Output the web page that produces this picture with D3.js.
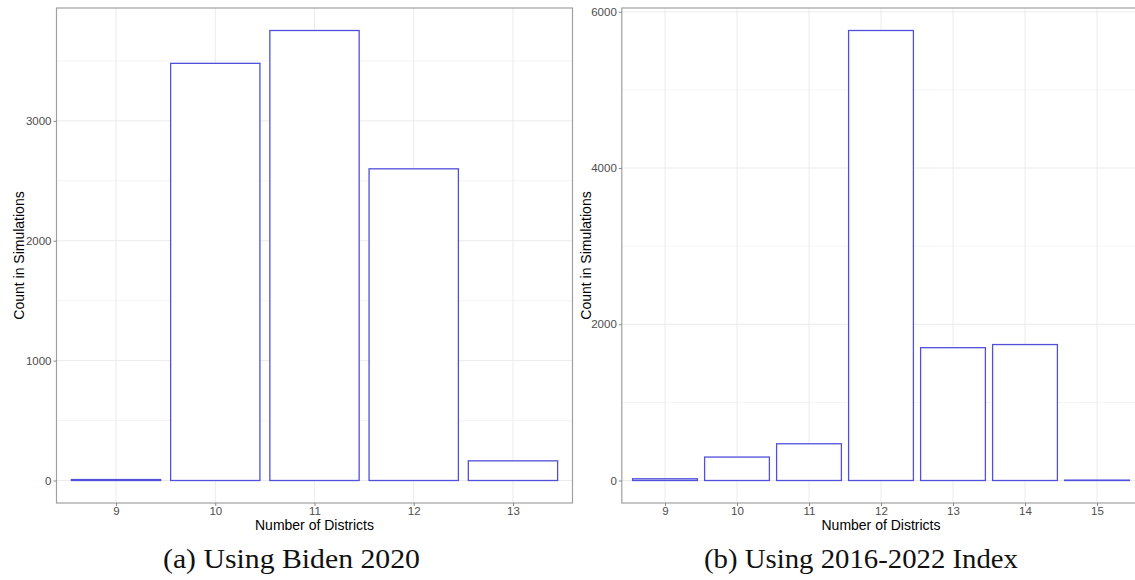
<!DOCTYPE html>
<html>
<head>
<meta charset="utf-8">
<script src="https://cdn.jsdelivr.net/npm/d3@7"></script>
<style>
  body { margin: 0; background: #fff; }
  svg { display: block; }
  .tick text { font-family: "Liberation Sans", Arial, sans-serif; font-size: 11.5px; fill: #4d4d4d; }
  .tick line { stroke: #888; }
  .axis-title { font-family: "Liberation Sans", Arial, sans-serif; font-size: 14px; fill: #000; }
  .caption { font-family: "Liberation Serif", serif; font-size: 28px; fill: #111; }
</style>
</head>
<body>
<svg id="chart" width="1135" height="580"></svg>
<script>
// panel (a): Biden 2020
const districtsA = [9, 10, 11, 12, 13];
const countsA = [8, 3480, 3754, 2600, 164];
const yTicksA = [0, 1000, 2000, 3000];
const yMinorA = [500, 1500, 2500, 3500];

// panel (b): 2016-2022 index
const districtsB = [9, 10, 11, 12, 13, 14, 15];
const countsB = [22, 300, 470, 5760, 1700, 1740, 5];
const yTicksB = [0, 2000, 4000, 6000];
const yMinorB = [1000, 3000, 5000];

const captions = ['(a) Using Biden 2020', '(b) Using 2016-2022 Index'];

const svg = d3.select('#chart');

function drawPanel(opts) {
  const { districts, counts, yTicks, yMinor, x0, x1, titleX, caption, captionX, captionW } = opts;
  const top = 8, bottom = 503;
  const maxC = d3.max(counts);

  const xScale = d3.scaleLinear()
    .domain([d3.min(districts) - 0.6, d3.max(districts) + 0.6])
    .range([x0, x1]);
  const yScale = d3.scaleLinear()
    .domain([-0.05 * maxC, 1.05 * maxC])
    .range([bottom, top]);

  const g = svg.append('g');

  g.append('rect')
    .attr('x', x0).attr('y', top)
    .attr('width', x1 - x0).attr('height', bottom - top)
    .attr('fill', '#fff');

  // minor grid
  g.selectAll('.minor')
    .data(yMinor)
    .enter().append('line')
    .attr('x1', x0).attr('x2', x1)
    .attr('y1', d => yScale(d)).attr('y2', d => yScale(d))
    .attr('stroke', '#f4f4f4').attr('stroke-width', 1);

  // major grid
  g.selectAll('.hgrid')
    .data(yTicks)
    .enter().append('line')
    .attr('x1', x0).attr('x2', x1)
    .attr('y1', d => yScale(d)).attr('y2', d => yScale(d))
    .attr('stroke', '#ebebeb').attr('stroke-width', 1);

  g.selectAll('.vgrid')
    .data(districts)
    .enter().append('line')
    .attr('x1', d => xScale(d)).attr('x2', d => xScale(d))
    .attr('y1', top).attr('y2', bottom)
    .attr('stroke', '#ebebeb').attr('stroke-width', 1);

  // bars, width 0.9
  g.selectAll('.bar')
    .data(districts)
    .enter().append('rect')
    .attr('x', d => xScale(d - 0.45))
    .attr('width', d => xScale(d + 0.45) - xScale(d - 0.45))
    .attr('y', (d, i) => yScale(counts[i]))
    .attr('height', (d, i) => yScale(0) - yScale(counts[i]))
    .attr('fill', '#fff')
    .attr('stroke', '#5050dc')
    .attr('stroke-width', 1.3);

  // panel border
  g.append('rect')
    .attr('x', x0).attr('y', top)
    .attr('width', x1 - x0).attr('height', bottom - top)
    .attr('fill', 'none')
    .attr('stroke', '#a0a0a0').attr('stroke-width', 1.2);

  const xAxis = d3.axisBottom(xScale).tickValues(districts).tickFormat(d3.format('d')).tickSize(3).tickPadding(1);
  g.append('g')
    .attr('transform', `translate(0,${bottom})`)
    .call(xAxis)
    .call(a => a.select('.domain').remove());

  const yAxis = d3.axisLeft(yScale).tickValues(yTicks).tickFormat(d3.format('d')).tickSize(3).tickPadding(2);
  g.append('g')
    .attr('transform', `translate(${x0},0)`)
    .call(yAxis)
    .call(a => a.select('.domain').remove());

  g.append('text')
    .attr('class', 'axis-title')
    .attr('x', (x0 + x1) / 2)
    .attr('y', 530)
    .attr('text-anchor', 'middle')
    .text('Number of Districts');

  g.append('text')
    .attr('class', 'axis-title')
    .attr('transform', `translate(${titleX},${(top + bottom) / 2}) rotate(-90)`)
    .attr('text-anchor', 'middle')
    .text('Count in Simulations');

  g.append('text')
    .attr('class', 'caption')
    .attr('x', captionX - captionW / 2)
    .attr('y', 568)
    .attr('textLength', captionW)
    .attr('lengthAdjust', 'spacingAndGlyphs')
    .text(caption);
}

drawPanel({
  districts: districtsA, counts: countsA, yTicks: yTicksA, yMinor: yMinorA,
  x0: 56.5, x1: 572.5, titleX: 24, caption: captions[0], captionX: 291.5, captionW: 257
});

drawPanel({
  districts: districtsB, counts: countsB, yTicks: yTicksB, yMinor: yMinorB,
  x0: 621.8, x1: 1140.2, titleX: 591, caption: captions[1], captionX: 861, captionW: 314
});
</script>
</body>
</html>
